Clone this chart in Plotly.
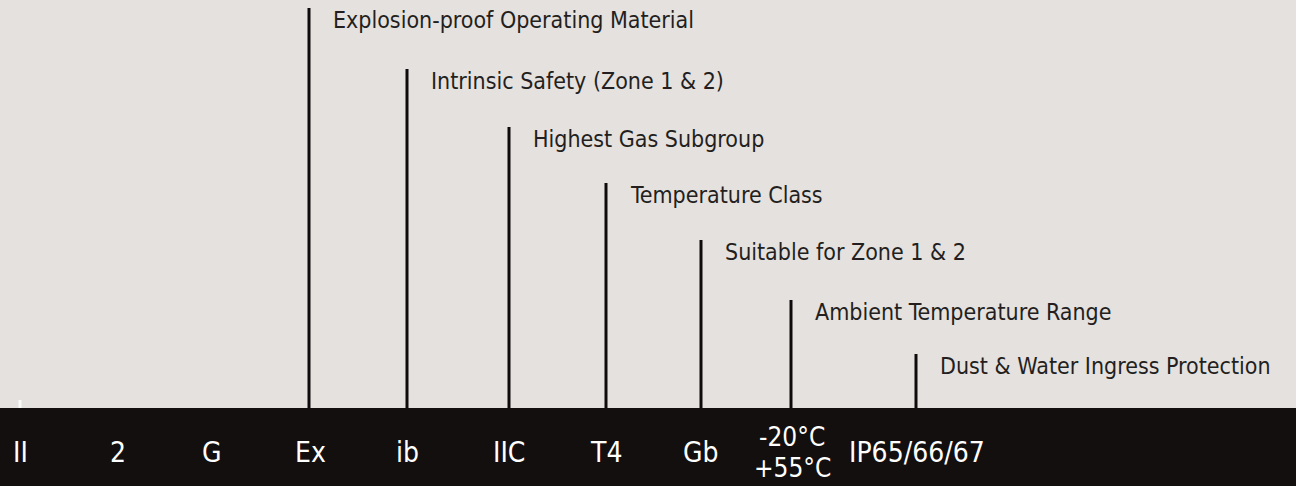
import plotly.graph_objects as go

# ---- data ----
codes = ["II", "2", "G", "Ex", "ib", "IIC", "T4", "Gb", "-20°C<br>+55°C", "IP65/66/67"]
descriptions = [None, None, None,
                "Explosion-proof Operating Material",
                "Intrinsic Safety (Zone 1 & 2)",
                "Highest Gas Subgroup",
                "Temperature Class",
                "Suitable for Zone 1 & 2",
                "Ambient Temperature Range",
                "Dust & Water Ingress Protection"]
levels = [None, None, None, 7, 6, 5, 4, 3, 2, 1]

# ---- layout constants ----
W, H = 1296, 486
BAND_TOP = 78            # band height in pixels from bottom
x_pos = [20, 118, 212, 310, 407, 509, 606, 701, 792, 917]
line_x = [None, None, None, 309, 407, 509, 606, 701, 791, 916]
level_top = {7: 478, 6: 417, 5: 359, 4: 303, 3: 246, 2: 186, 1: 132}
BG = "#e5e1df"
BAND = "#120f0e"
INK = "#231f20"
FONT = "DejaVu Sans Condensed, Liberation Sans Narrow, Arial Narrow, sans-serif"

fig = go.Figure()

# black band
fig.add_shape(type="rect", x0=0, x1=W, y0=0, y1=BAND_TOP,
              fillcolor=BAND, line=dict(width=0), layer="below")
# small white tick
fig.add_trace(go.Scatter(x=[x_pos[0], x_pos[0]], y=[BAND_TOP, BAND_TOP + 8],
                         mode="lines", line=dict(color="rgba(255,255,255,0.85)", width=3),
                         hoverinfo="skip", showlegend=False))

for code, desc, lvl, xp, lx in zip(codes, descriptions, levels, x_pos, line_x):
    if lvl is not None:
        top = level_top[lvl]
        fig.add_trace(go.Scatter(x=[lx, lx], y=[BAND_TOP, top], mode="lines",
                                 line=dict(color="#0d0b0b", width=3),
                                 hoverinfo="skip", showlegend=False))
        fig.add_annotation(x=lx + 22, y=top - 12, text=desc, showarrow=False,
                           xanchor="left", yanchor="middle",
                           font=dict(family=FONT, size=23, color=INK))
    parts = code.split("<br>")
    if len(parts) == 1:
        fig.add_annotation(x=xp, y=34, text=code, showarrow=False,
                           xanchor="center", yanchor="middle",
                           font=dict(family=FONT, size=28, color="white"))
    else:
        for i, p in enumerate(parts):
            fig.add_annotation(x=xp, y=49 - 31 * i, text=p, showarrow=False,
                               xanchor="center", yanchor="middle",
                               font=dict(family=FONT, size=26, color="white"))

fig.update_layout(
    width=W, height=H,
    margin=dict(l=0, r=0, t=0, b=0),
    paper_bgcolor=BG, plot_bgcolor=BG,
    xaxis=dict(range=[0, W], visible=False, fixedrange=True),
    yaxis=dict(range=[0, H], visible=False, fixedrange=True),
    showlegend=False,
)

fig.write_html("out.html", config={"displayModeBar": False},
               post_script="document.body.style.margin='0';document.body.style.overflow='hidden';")
